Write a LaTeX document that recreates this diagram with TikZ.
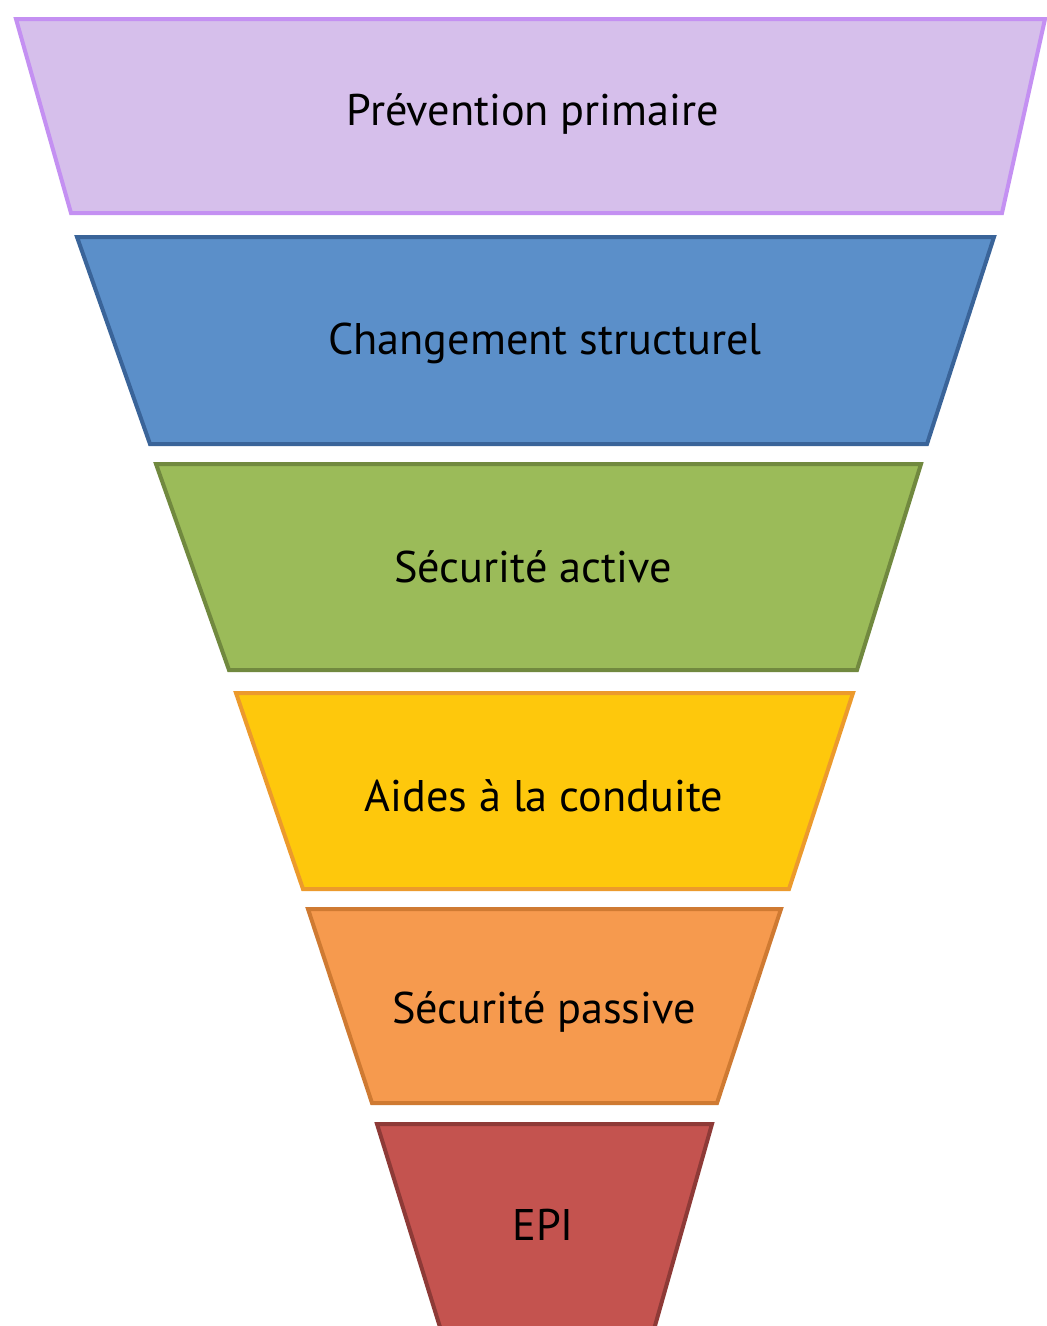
\documentclass[tikz,border=0pt]{standalone}
\usepackage{fontspec}
\setmainfont{PT Sans}
\definecolor{lilacfill}{HTML}{D6BFEB}
\definecolor{lilacline}{HTML}{C490F2}
\definecolor{bluefill}{HTML}{5B8FC9}
\definecolor{blueline}{HTML}{3A6499}
\definecolor{greenfill}{HTML}{9BBB59}
\definecolor{greenline}{HTML}{71893F}
\definecolor{yellowfill}{HTML}{FEC80C}
\definecolor{yellowline}{HTML}{EC9A2C}
\definecolor{orangefill}{HTML}{F69A4E}
\definecolor{orangeline}{HTML}{CF7A32}
\definecolor{redfill}{HTML}{C4534F}
\definecolor{redline}{HTML}{8E3A37}
\tikzset{
  tier/.style={line width=4pt, line join=miter},
  tierlabel/.style={font=\fontsize{44.3}{50}\selectfont, text=black, inner sep=0pt}
}
\begin{document}
\begin{tikzpicture}[x=1pt,y=-1pt]
\useasboundingbox (0,0) rectangle (1047,1326);
\clip (0,0) rectangle (1047,1326);
\fill[white] (0,0) rectangle (1047,1326);
% funnel tiers, widest at the top
\filldraw[tier, fill=lilacfill, draw=lilacline]
  (16,19) -- (1045,19) -- (1002,213) -- (71,213) -- cycle;
\filldraw[tier, fill=bluefill, draw=blueline]
  (77,237) -- (994,237) -- (927,444) -- (150,444) -- cycle;
\filldraw[tier, fill=greenfill, draw=greenline]
  (156,464) -- (921,464) -- (857,670) -- (229,670) -- cycle;
\filldraw[tier, fill=yellowfill, draw=yellowline]
  (236,693) -- (853,693) -- (789,889) -- (303,889) -- cycle;
\filldraw[tier, fill=orangefill, draw=orangeline]
  (308,909) -- (781,909) -- (717,1103) -- (372,1103) -- cycle;
\filldraw[tier, fill=redfill, draw=redline]
  (377,1124) -- (712,1124) -- (651,1340) -- (444,1340) -- cycle;
% tier labels
\node[tierlabel] (prim) at (533,114) {Prévention primaire};
\node[tierlabel] (struct) at (545,343) {Changement structurel};
\node[tierlabel] (active) at (533,567) {Sécurité active};
\node[tierlabel] (aides) at (544,796) {Aides à la conduite};
\node[tierlabel] (passive) at (544,1012) {Sécurité passive};
\node[tierlabel] (epi) at (543,1225) {EPI};
\end{tikzpicture}
\end{document}
